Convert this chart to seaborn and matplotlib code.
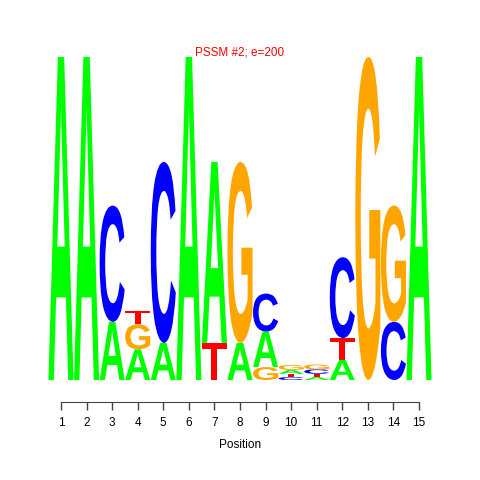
import numpy as np
import pandas as pd
import matplotlib
matplotlib.use("Agg")
import matplotlib.pyplot as plt
import seaborn as sns
from matplotlib.textpath import TextPath
from matplotlib.patches import PathPatch
from matplotlib.font_manager import FontProperties
from matplotlib.transforms import Affine2D

# information content (bits) per letter, positions 1..15
positions = list(range(1, 16))
A = [2.0, 2.0, 0.36, 0.19, 0.23, 2.0, 1.12, 0.23, 0.22, 0.025, 0.018, 0.125, 0.0, 0.0, 2.0]
C = [0.0, 0.0, 0.72, 0.0, 1.12, 0.0, 0.0, 0.0, 0.235, 0.018, 0.028, 0.5, 0.0, 0.36, 0.0]
G = [0.0, 0.0, 0.0, 0.155, 0.0, 0.0, 0.0, 1.12, 0.08, 0.03, 0.03, 0.0, 2.0, 0.72, 0.0]
T = [0.0, 0.0, 0.0, 0.08, 0.0, 0.0, 0.23, 0.0, 0.0, 0.02, 0.02, 0.135, 0.0, 0.0, 0.0]
# stacking order bottom -> top, as drawn in the logo
stack_order = ["A", "A", "AC", "AGT", "AC", "A", "TA", "AG", "GAC",
               "CTAG", "ATCG", "ATC", "G", "CG", "A"]

letter_colors = {"A": "#00FF00", "C": "#0000FF", "G": "#FFA500", "T": "#FF0000"}
title = "PSSM #2; e=200"

df = pd.DataFrame({"A": A, "C": C, "G": G, "T": T}, index=positions)

sns.set_style("white")
plt.rcParams["font.family"] = ["Liberation Sans", "DejaVu Sans"]

fp = FontProperties(family="Liberation Sans", weight="bold")
glyphs = {k: TextPath((0, 0), k, size=1, prop=fp) for k in "ACGT"}


def draw_letter(ax, letter, xc, y0, h, width=0.98):
    path = glyphs[letter]
    ext = path.get_extents()
    tr = (Affine2D()
          .translate(-ext.x0, -ext.y0)
          .scale(width / ext.width, h / ext.height)
          .translate(xc - width / 2, y0))
    patch = PathPatch(tr.transform_path(path), facecolor=letter_colors[letter],
                      edgecolor="none", transform=ax.transData)
    ax.add_patch(patch)


fig = plt.figure(figsize=(4.8, 4.8), dpi=100)
ax = fig.add_axes([48.2 / 480, 100 / 480, 383.6 / 480, 323 / 480])

for (pos, row), order in zip(df.iterrows(), stack_order):
    base = 0.0
    for letter in order:
        h = row[letter]
        draw_letter(ax, letter, pos, base, h)
        base += h

ax.set_xlim(0.5, 15.5)
ax.set_ylim(0, 2)
ax.set_yticks([])
ax.set_xticks(positions)
ax.tick_params(axis="x", bottom=True, direction="out", length=6, width=1,
               color="#444444", labelcolor="black", labelsize=8.5, pad=5)
sns.despine(ax=ax, left=True, offset=16)
ax.spines["bottom"].set_bounds(1, 15)
ax.spines["bottom"].set_color("#444444")
ax.set_xlabel("Position", fontsize=8.5, labelpad=7, color="black")
ax.text(0.5, 1.0 + 1.5 / 323, title, transform=ax.transAxes, ha="center",
        va="baseline", color="#FF0000", fontsize=8.5)

fig.savefig("out.png", dpi=100)
